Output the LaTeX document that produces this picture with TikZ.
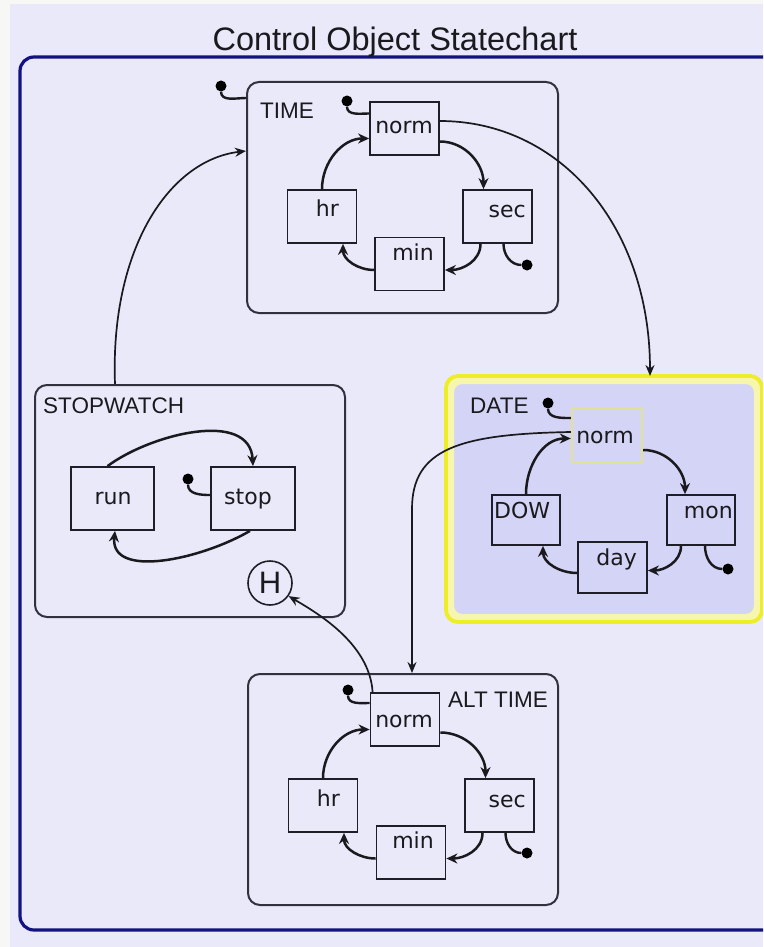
\documentclass[tikz,border=0pt]{standalone}
\usepackage{fontspec}
\setmainfont{Liberation Sans}
\newfontfamily\dvfont{DejaVu Sans}
\usetikzlibrary{arrows.meta}
\definecolor{bg}{RGB}{233,233,249}
\definecolor{strip}{RGB}{247,247,246}
\definecolor{outerblue}{RGB}{18,18,130}
\definecolor{boxline}{RGB}{50,50,62}
\definecolor{stline}{RGB}{30,30,40}
\definecolor{datefill}{RGB}{212,212,246}
\definecolor{dateyellow}{RGB}{238,238,40}
\definecolor{dateglow}{RGB}{246,246,175}
\definecolor{normyellow}{RGB}{226,226,150}
\definecolor{ink}{RGB}{25,25,30}
\tikzset{
  compbox/.style={draw=boxline, line width=2pt, rounded corners=12pt, fill=bg, inner sep=0pt},
  stbox/.style={draw=stline, line width=1.8pt, fill=bg, inner sep=0pt, minimum width=69pt, minimum height=53pt},
  stlab/.style={font=\dvfont\fontsize{22}{26}\selectfont, text=ink, inner sep=0pt},
  cmplab/.style={font=\fontsize{22.5}{26}\selectfont, text=ink, inner sep=0pt},
  trans/.style={draw=ink, line width=2.5pt, -{Stealth[length=11pt,width=10pt]}},
  link/.style={draw=ink, line width=1.7pt, -{Stealth[length=11pt,width=9pt]}},
  initdot/.style={circle, fill=black, inner sep=0pt, minimum size=11pt},
  hook/.style={draw=ink, line width=2.4pt},
}
\begin{document}
\begin{tikzpicture}[x=1pt,y=-1pt]
\useasboundingbox (0,0) rectangle (763,947);
\clip (0,0) rectangle (763,947);
% background
\fill[strip] (0,0) rectangle (763,947);
\fill[bg] (10,4) rectangle (763,947);
% outer box
\node[draw=outerblue, line width=3.2pt, rounded corners=14pt, fill=bg, minimum width=780pt, minimum height=873pt, inner sep=0pt] (outer) at (410,493.5) {};
\node[font=\fontsize{32.5}{36}\selectfont, anchor=base, text=ink, inner sep=0pt] (title) at (395,51) {Control Object Statechart};

% ---------- TIME ----------
\node[compbox, minimum width=311pt, minimum height=231pt] (time) at (402.5,197.5) {};
\node[cmplab, anchor=base west] (timel) at (260,119) {TIME};
\node[stbox] (tnorm) at (404.5,128.5) {};
\node[stbox] (thr) at (322,216.5) {};
\node[stbox] (tsec) at (497.5,216.5) {};
\node[stbox] (tmin) at (409.5,264) {};
\node[stlab, anchor=base] (tnorml) at (404,134) {norm};
\node[stlab, anchor=base east] (thrl) at (339,216) {hr};
\node[stlab, anchor=base east] (tsecl) at (526,217) {sec};
\node[stlab, anchor=base east] (tminl) at (434,260) {min};
\node[initdot] (t0) at (221,86) {};
\node[initdot] (tn0) at (347,101) {};
\node[initdot] (tf) at (527,265) {};
\draw[hook] (t0) to[out=-90,in=180] ([yshift=-17pt]time.north west);
\draw[hook] (tn0) to[out=-90,in=180] ([yshift=15pt]tnorm.west);
\draw[hook] ([xshift=6pt]tsec.south) to[out=-90,in=180] (tf);
\draw[trans] ([yshift=-13pt]tnorm.east) to[out=0,in=90] ([xshift=-14pt]tsec.north);
\draw[trans] ([xshift=-17pt]tsec.south) to[out=-90,in=0] ([yshift=-6pt]tmin.east);
\draw[trans] ([yshift=-6pt]tmin.west) to[out=180,in=-90] ([xshift=21pt]thr.south);
\draw[trans] (thr.north) to[out=90,in=180] ([yshift=-10pt]tnorm.west);

% ---------- STOPWATCH ----------
\node[compbox, minimum width=310pt, minimum height=232pt] (sw) at (190,501) {};
\node[cmplab, anchor=base west] (swl) at (43,413) {STOPWATCH};
\node[stbox, minimum width=83pt, minimum height=63pt] (run) at (112.5,498.5) {};
\node[stbox, minimum width=84pt, minimum height=63pt] (stop) at (253,498.5) {};
\node[stlab, anchor=base] (runl) at (113,504) {run};
\node[stlab, anchor=base] (stopl) at (248,504) {stop};
\node[initdot] (s0) at (188,479) {};
\draw[hook] (s0) to[out=-90,in=180] ([yshift=3.5pt]stop.west);
\draw[trans] ([xshift=-5pt]run.north) .. controls +(43,-32) and +(-3,-57) .. (stop.north);
\draw[trans] ([xshift=-3pt]stop.south) .. controls +(-50,29) and +(-5,48) .. ([xshift=2.5pt]run.south);
\node[draw=stline, line width=1.6pt, circle, minimum size=44pt, inner sep=0pt, fill=bg, text=ink, font=\fontsize{31}{31}\selectfont] (H) at (270,583) {H};

% ---------- DATE ----------
\node[draw=dateglow, line width=8pt, rounded corners=12pt, fill=datefill, minimum width=308pt, minimum height=238pt, inner sep=0pt] (date) at (604,499) {};
\draw[dateyellow, line width=3.8pt, rounded corners=12pt] (date.north west) rectangle (date.south east);
\node[cmplab, anchor=base west] (datel) at (470,413) {DATE};
\node[stbox, draw=normyellow, line width=2.4pt, fill=datefill, minimum width=70pt, minimum height=55pt] (dnorm) at (607,435.5) {};
\node[stbox, fill=datefill, minimum width=68pt, minimum height=50pt] (ddow) at (526,520) {};
\node[stbox, fill=datefill, minimum width=68pt, minimum height=50pt] (dmon) at (701,520) {};
\node[stbox, fill=datefill, minimum width=69pt, minimum height=51pt] (dday) at (612.5,567.5) {};
\node[stlab, anchor=base] (dnorml) at (605,443) {norm};
\node[stlab, anchor=base west] (ddowl) at (494,518) {DOW};
\node[stlab, anchor=base east] (dmonl) at (733,518) {mon};
\node[stlab, anchor=base east] (ddayl) at (637,565) {day};
\node[initdot] (d0) at (548,403) {};
\node[initdot] (df) at (728,569) {};
\draw[hook] (d0) to[out=-90,in=180] ([yshift=17.5pt]dnorm.west);
\draw[hook] ([xshift=4pt]dmon.south) to[out=-90,in=180] (df);
\draw[trans] ([yshift=-14.5pt]dnorm.east) to[out=0,in=90] ([xshift=-16pt]dmon.north);
\draw[trans] ([xshift=-20pt]dmon.south) to[out=-90,in=0] ([yshift=-3pt]dday.east);
\draw[trans] ([yshift=-5.5pt]dday.west) to[out=180,in=-90] ([xshift=17pt]ddow.south);
\draw[trans] (ddow.north) to[out=90,in=180] ([yshift=-3pt]dnorm.west);

% ---------- ALT TIME ----------
\node[compbox, minimum width=310pt, minimum height=231pt] (alt) at (403,789.5) {};
\node[cmplab, anchor=base west] (altl) at (448,707) {ALT TIME};
\node[stbox] (anorm) at (405,719.5) {};
\node[stbox] (ahr) at (323,805.5) {};
\node[stbox] (asec) at (499.5,805.5) {};
\node[stbox] (amin) at (411,852.5) {};
\node[stlab, anchor=base] (anorml) at (404,727) {norm};
\node[stlab, anchor=base east] (ahrl) at (340,806) {hr};
\node[stlab, anchor=base east] (asecl) at (526,807) {sec};
\node[stlab, anchor=base east] (aminl) at (434,848) {min};
\node[initdot] (a0) at (348,690) {};
\node[initdot] (af) at (527,853) {};
\draw[hook] (a0) to[out=-90,in=180] ([yshift=16.5pt]anorm.west);
\draw[hook] ([xshift=6pt]asec.south) to[out=-90,in=180] (af);
\draw[trans] ([yshift=-13pt]anorm.east) to[out=0,in=90] ([xshift=-14pt]asec.north);
\draw[trans] ([xshift=-17pt]asec.south) to[out=-90,in=0] ([yshift=-6pt]amin.east);
\draw[trans] ([yshift=-6pt]amin.west) to[out=180,in=-90] ([xshift=21pt]ahr.south);
\draw[trans] (ahr.north) to[out=90,in=180] ([yshift=-10pt]anorm.west);

% ---------- long connectors ----------
\draw[link] ([yshift=7.5pt]tnorm.east) .. controls +(120,0) and +(0,-150) .. ([xshift=46pt]date.north);
\coordinate (altin) at ([xshift=9pt]alt.north);
\coordinate (altbend) at ([yshift=164pt]altin);
\draw[link] ([yshift=3.5pt]dnorm.west) .. controls +(-112,2) and +(0,-60) .. (altbend) -- (altin);
\draw[link] ([xshift=3pt]anorm.north west) .. controls +(-3,-50) and +(25,15) .. (H.-35);
\draw[link] ([xshift=-75pt]sw.north) .. controls +(-5,-135) and +(-77,9) .. ([yshift=46.5pt]time.west);
\end{tikzpicture}
\end{document}
